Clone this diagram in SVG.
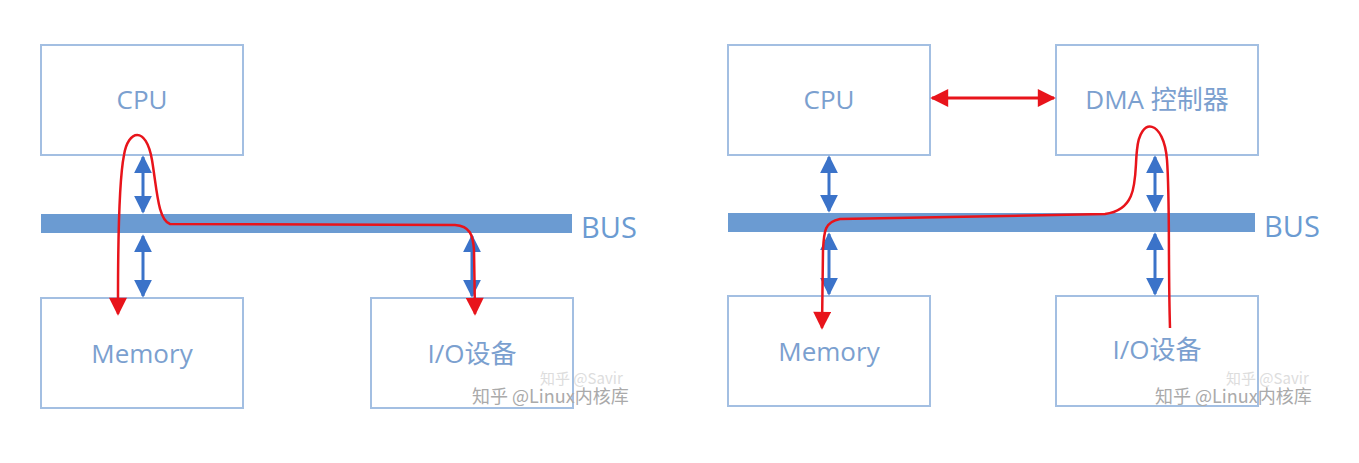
<svg xmlns="http://www.w3.org/2000/svg" width="1359" height="463" viewBox="0 0 1359 463">
<defs>
<style>
.box{fill:#fff;stroke:#a3bfe2;stroke-width:2}
.lbl{font-family:"Open Sans","Noto Sans","Noto Sans CJK SC",sans-serif;font-size:26px;fill:#7ba0cf;text-anchor:middle}
.bus{fill:#6b9bd2}
.busl{font-family:"Open Sans","Noto Sans",sans-serif;font-size:29px;fill:#6b9bd2}
.ba{stroke:#3b73c9;stroke-width:3;fill:none;marker-start:url(#bh);marker-end:url(#bh)}
.wm{font-family:"Noto Sans CJK SC",sans-serif;font-size:18px;fill:#aaa}
.wm2{font-family:"Noto Sans CJK SC",sans-serif;font-size:15px;fill:#ddd}
</style>
<marker id="bh" viewBox="0 0 10 10" refX="9" refY="5" markerWidth="18" markerHeight="22" orient="auto-start-reverse" markerUnits="userSpaceOnUse"><path d="M0,0L10,5L0,10z" fill="#3b73c9"/></marker>
<marker id="rh2" viewBox="0 0 10 10" refX="9" refY="5" markerWidth="22" markerHeight="18" orient="auto-start-reverse" markerUnits="userSpaceOnUse"><path d="M0,0L10,5L0,10z" fill="#e8141b"/></marker>
</defs>
<rect width="1359" height="463" fill="#fff"/>
<g id="bus-left"><rect class="bus" x="41" y="214" width="531" height="19"/><text class="busl" x="581" y="238">BUS</text></g>
<g id="cpu-left"><rect class="box" x="41" y="45" width="202" height="110"/><text class="lbl" x="142" y="109">CPU</text></g>
<g id="mem-left"><rect class="box" x="41" y="298" width="202" height="110"/><text class="lbl" x="142" y="363">Memory</text></g>
<g id="io-left"><rect class="box" x="371" y="298" width="202" height="110"/><text class="lbl" x="472" y="363">I/O设备</text></g>
<g id="bus-right"><rect class="bus" x="728" y="213" width="527" height="19"/><text class="busl" x="1264" y="237">BUS</text></g>
<g id="cpu-right"><rect class="box" x="728" y="45" width="202" height="110"/><text class="lbl" x="829" y="109">CPU</text></g>
<g id="dma-right"><rect class="box" x="1056" y="45" width="202" height="110"/><text class="lbl" x="1157" y="109">DMA 控制器</text></g>
<g id="mem-right"><rect class="box" x="728" y="296" width="202" height="110"/><text class="lbl" x="829" y="361">Memory</text></g>
<g id="io-right"><rect class="box" x="1056" y="296" width="202" height="110"/><text class="lbl" x="1157" y="359">I/O设备</text></g>
<g id="connectors">
<line class="ba" x1="143" y1="157" x2="143" y2="212"/>
<line class="ba" x1="143" y1="236" x2="143" y2="296"/>
<line class="ba" x1="472" y1="236" x2="472" y2="296"/>
<line class="ba" x1="829" y1="157" x2="829" y2="211"/>
<line class="ba" x1="829" y1="234" x2="829" y2="294"/>
<line class="ba" x1="1155" y1="157" x2="1155" y2="211"/>
<line class="ba" x1="1155" y1="234" x2="1155" y2="294"/>
<path d="M118,314 L118,300 C118,240 119,180 124,155 C128,130 146,125 152,160 C157,190 158,220 170,224 L455,225 C470,226 473,235 474,250 L475,314" stroke="#e8141b" stroke-width="2.5" fill="none" marker-start="url(#rh2)" marker-end="url(#rh2)"/>
<path d="M1170,328 C1168,260 1170,200 1167,160 C1164,120 1140,115 1137,150 C1134,175 1140,210 1105,214 L840,219 C825,222 824,230 823,250 L822,328" stroke="#e8141b" stroke-width="2.5" fill="none" marker-end="url(#rh2)"/>
<line x1="932" y1="98" x2="1054" y2="98" stroke="#e8141b" stroke-width="3" marker-start="url(#rh2)" marker-end="url(#rh2)"/>
</g>
<text class="wm2" x="540" y="384">知乎 @Savir</text>
<text class="wm" x="472" y="403">知乎 @Linux内核库</text>
<text class="wm2" x="1226" y="384">知乎 @Savir</text>
<text class="wm" x="1155" y="403">知乎 @Linux内核库</text>
</svg>
